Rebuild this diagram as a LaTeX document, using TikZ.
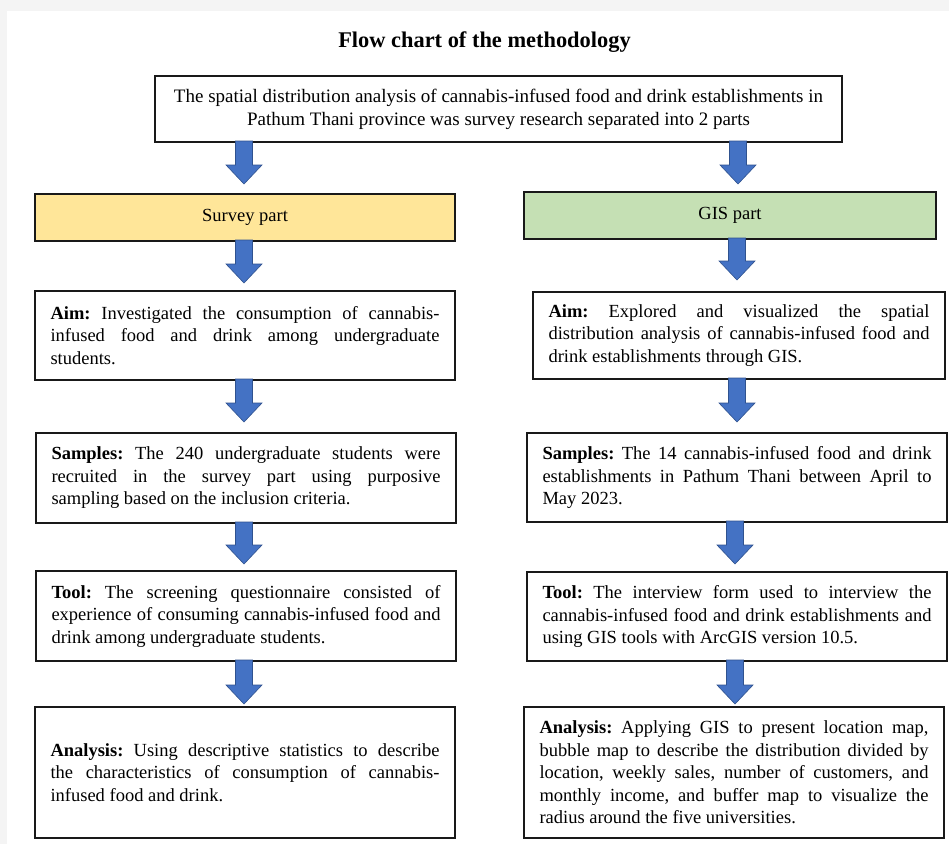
\documentclass[tikz,border=0pt]{standalone}
\usepackage{fontspec}
\setmainfont{Liberation Serif}
\usetikzlibrary{calc}
\definecolor{bggrey}{HTML}{F4F4F4}
\definecolor{surveyfill}{HTML}{FFE699}
\definecolor{gisfill}{HTML}{C5E0B4}
\definecolor{arrfill}{HTML}{4472C4}
\definecolor{arrdraw}{HTML}{2F528F}
\newdimen\jlw
\newcommand\jl[1]{\noindent\hbox to \jlw{\spaceskip=0pt\xspaceskip=0pt #1}}
\newcommand\blockarr[4]{%
  \filldraw[barrow] let \p1=(#1.south), \p2=(#2.north) in
    ({#3pt-8.5pt},{\y1+1pt}) -- ({#3pt+8.5pt},{\y1+1pt})
    -- ({#3pt+8.5pt},{\y2+#4pt+19pt}) -- ({#3pt+18pt},{\y2+#4pt+19pt})
    -- ({#3pt},{\y2+#4pt}) -- ({#3pt-18pt},{\y2+#4pt+19pt})
    -- ({#3pt-8.5pt},{\y2+#4pt+19pt}) -- cycle;}
\tikzset{
  box/.style={draw=black!90, line width=1.6pt, inner xsep=15.5pt, inner ysep=0pt, outer sep=0pt,
    font=\fontsize{18.5}{22.5}\selectfont,
    execute at begin node={\spaceskip=0pt\xspaceskip=0pt\frenchspacing}},
  bodybox/.style 2 args={box, minimum width=#1pt, minimum height=#2pt, text width={#1pt-31pt}, align=left,
    execute at begin node={\global\jlw=\dimexpr#1pt-31pt\relax\parindent=0pt\spaceskip=0pt\xspaceskip=0pt\frenchspacing}},
  headbox/.style 2 args={box, minimum width=#1pt, minimum height=#2pt, align=center},
  barrow/.style={fill=arrfill, draw=arrdraw, line width=0.6pt, line join=miter},
}
\begin{document}
\begin{tikzpicture}[x=1pt,y=-1pt]
\useasboundingbox (0,0) rectangle (949,844);
\fill[bggrey] (0,0) rectangle (949,844);
\fill[white] (7,11) rectangle (949,844);

\node[font=\bfseries\fontsize{22.4}{26}\selectfont, execute at begin node={\spaceskip=0pt}] (title) at (484.5,42) {Flow chart of the methodology};

\node[headbox={687}{66}, font=\fontsize{19}{23}\selectfont] (top) at (498.5,109)
  {The spatial distribution analysis of cannabis-infused food and drink establishments in\\
   Pathum Thani province was survey research separated into 2 parts};

\node[headbox={420}{47}, fill=surveyfill] (survey) at (245,217.5) {Survey part};
\node[headbox={412}{47}, fill=gisfill] (gis) at (730,215.5) {GIS part};

\node[bodybox={420}{89}] (aimL) at (245,335.5)
  {\jl{\textbf{Aim:} Investigated the consumption of cannabis-}\\
   \jl{infused food and drink among undergraduate}\\
   students.};
\node[bodybox={412}{87}] (aimR) at (739,335.5)
  {\jl{\textbf{Aim:} Explored and visualized the spatial}\\
   \jl{distribution analysis of cannabis-infused food and}\\
   drink establishments through GIS.};

\node[bodybox={420}{90}] (sampL) at (246,478)
  {\jl{\textbf{Samples:} The 240 undergraduate students were}\\
   \jl{recruited in the survey part using purposive}\\
   sampling based on the inclusion criteria.};
\node[bodybox={420}{89}] (sampR) at (737,477.5)
  {\jl{\textbf{Samples:} The 14 cannabis-infused food and drink}\\
   \jl{establishments in Pathum Thani between April to}\\
   May 2023.};

\node[bodybox={420}{90}] (toolL) at (246,616)
  {\jl{\textbf{Tool:} The screening questionnaire consisted of}\\
   \jl{experience of consuming cannabis-infused food and}\\
   drink among undergraduate students.};
\node[bodybox={420}{89}] (toolR) at (737,616.5)
  {\jl{\textbf{Tool:} The interview form used to interview the}\\
   \jl{cannabis-infused food and drink establishments and}\\
   using GIS tools with ArcGIS version 10.5.};

\node[bodybox={420}{131}] (anaL) at (245,772.5)
  {\jl{\textbf{Analysis:} Using descriptive statistics to describe}\\
   \jl{the characteristics of consumption of cannabis-}\\
   infused food and drink.};
\node[bodybox={420}{131}] (anaR) at (734,772.5)
  {\jl{\textbf{Analysis:} Applying GIS to present location map,}\\
   \jl{bubble map to describe the distribution divided by}\\
   \jl{location, weekly sales, number of customers, and}\\
   \jl{monthly income, and buffer map to visualize the}\\
   radius around the five universities.};

\blockarr{top}{survey}{244}{10}
\blockarr{top}{gis}{738}{8}
\blockarr{survey}{aimL}{244}{8}
\blockarr{gis}{aimR}{737}{12}
\blockarr{aimL}{sampL}{244}{11}
\blockarr{aimR}{sampR}{737}{11}
\blockarr{sampL}{toolL}{244}{7}
\blockarr{sampR}{toolR}{735}{8}
\blockarr{toolL}{anaL}{244}{3}
\blockarr{toolR}{anaR}{735}{3}
\end{tikzpicture}
\end{document}
